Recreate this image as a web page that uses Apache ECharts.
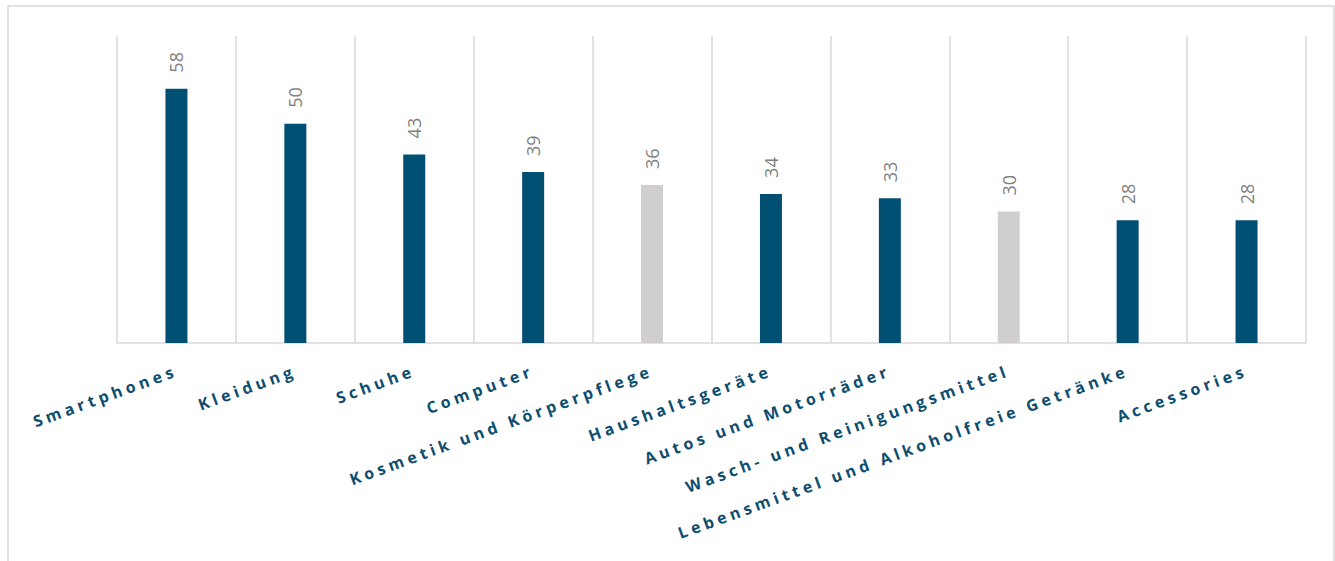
<!DOCTYPE html>
<html>
<head>
<meta charset="utf-8">
<script src="https://cdn.jsdelivr.net/npm/echarts@6/dist/echarts.min.js"></script>
<style>
  html, body { margin: 0; padding: 0; background: #fff; }
  #container { width: 1335px; height: 561px; }
  /* spaced-out category labels (right-anchored after rotation) */
  #container text[text-anchor="end"] { letter-spacing: 4.1px; }
</style>
</head>
<body>
<div id="container"></div>
<script>
var categories = ['Smartphones', 'Kleidung', 'Schuhe', 'Computer', 'Kosmetik und Körperpflege',
    'Haushaltsgeräte', 'Autos und Motorräder', 'Wasch- und Reinigungsmittel',
    'Lebensmittel und Alkoholfreie Getränke', 'Accessories'];
var values = [58, 50, 43, 39, 36, 34, 33, 30, 28, 28];
var highlighted = [false, false, false, false, true, false, false, true, false, false];

var blue = '#024f74';
var grey = '#d0cece';

var dom = document.getElementById('container');
var myChart = echarts.init(dom, null, { renderer: 'svg' });

var barData = values.map(function (v, i) {
    return { value: v, itemStyle: { color: highlighted[i] ? grey : blue } };
});

option = {
    animation: false,
    graphic: [{
        type: 'rect',
        shape: { x: 8, y: 6, width: 1326, height: 620 },
        style: { fill: 'none', stroke: '#d9d9d9', lineWidth: 1.5 },
        silent: true
    }],
    grid: { left: 117, right: 29, top: 36, bottom: 218 },
    xAxis: {
        type: 'category',
        data: categories,
        axisTick: { show: false },
        axisLine: { lineStyle: { color: '#d9d9d9', width: 1.5 } },
        splitLine: { show: true, interval: 0, lineStyle: { color: '#d9d9d9', width: 1.5 } },
        axisLabel: {
            interval: 0,
            rotate: 20,
            margin: 27,
            color: '#0d4d6e',
            fontFamily: 'Open Sans',
            fontWeight: 'bold',
            fontSize: 16
        }
    },
    yAxis: {
        type: 'value',
        min: 0,
        max: 70,
        show: false,
        splitLine: { show: false }
    },
    series: [{
        type: 'bar',
        data: barData,
        barWidth: '18.5%',
        label: {
            show: true,
            position: 'top',
            rotate: 90,
            align: 'left',
            verticalAlign: 'middle',
            distance: 16,
            color: '#7f7f7f',
            fontFamily: 'Open Sans',
            fontSize: 18
        }
    }]
};
myChart.setOption(option, true);
</script>
</body>
</html>
